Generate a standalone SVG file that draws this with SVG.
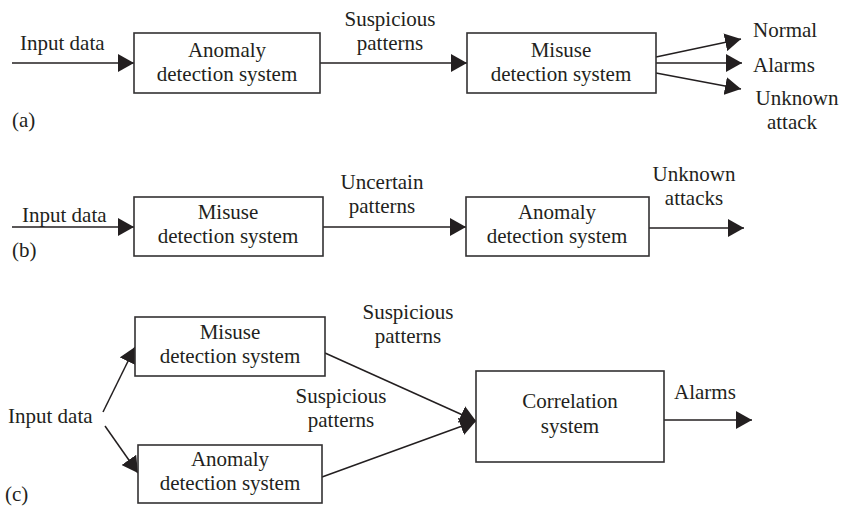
<svg xmlns="http://www.w3.org/2000/svg" width="845" height="507" viewBox="0 0 845 507">
  <defs>
    <style>
      .box { fill: #ffffff; stroke: #333132; stroke-width: 1.6; }
      .txt { font-family: "Liberation Serif", "Times New Roman", serif; font-size: 21px; fill: #231f20; }
      .mid { text-anchor: middle; }
      .edge { fill: none; stroke: #231f20; stroke-width: 1.5; marker-end: url(#arrow); }
    </style>
    <marker id="arrow" viewBox="0 -9 16 18" refX="16" refY="0" markerWidth="16" markerHeight="18" markerUnits="userSpaceOnUse" orient="auto">
      <path d="M0,-9 L16,0 L0,9 Z" fill="#231f20"/>
    </marker>
  </defs>
  <rect width="845" height="507" fill="#ffffff"/>

  <!-- connectors -->
  <g id="connectors">
    <!-- (a) -->
    <line class="edge" x1="12" y1="63" x2="134" y2="63"/>
    <line class="edge" x1="320" y1="63" x2="467" y2="63"/>
    <line class="edge" x1="656" y1="57" x2="741" y2="39"/>
    <line class="edge" x1="656" y1="63" x2="742" y2="63"/>
    <line class="edge" x1="656" y1="73" x2="741" y2="89"/>
    <!-- (b) -->
    <line class="edge" x1="12" y1="227" x2="134" y2="227"/>
    <line class="edge" x1="323" y1="227" x2="466" y2="227"/>
    <line class="edge" x1="649" y1="228" x2="744" y2="228"/>
    <!-- (c) -->
    <line class="edge" x1="103" y1="412" x2="135" y2="347"/>
    <line class="edge" x1="105" y1="426" x2="138" y2="473"/>
    <line class="edge" x1="325" y1="353" x2="476" y2="421"/>
    <line class="edge" x1="322" y1="477" x2="476" y2="421"/>
    <line class="edge" x1="664" y1="420" x2="752" y2="420"/>
  </g>

  <!-- edge labels -->
  <g id="labels">
    <text class="txt" x="20" y="50">Input data</text>
    <text class="txt mid" x="390" y="26">Suspicious</text>
    <text class="txt mid" x="390" y="50">patterns</text>
    <text class="txt" x="753" y="37">Normal</text>
    <text class="txt" x="753" y="72">Alarms</text>
    <text class="txt mid" x="797" y="105">Unknown</text>
    <text class="txt mid" x="792" y="129">attack</text>
    <text class="txt" x="12" y="127">(a)</text>

    <text class="txt" x="22" y="222">Input data</text>
    <text class="txt mid" x="382" y="189">Uncertain</text>
    <text class="txt mid" x="382" y="213">patterns</text>
    <text class="txt mid" x="694" y="181">Unknown</text>
    <text class="txt mid" x="694" y="205">attacks</text>
    <text class="txt" x="12" y="257">(b)</text>

    <text class="txt" x="8" y="423">Input data</text>
    <text class="txt mid" x="408" y="319">Suspicious</text>
    <text class="txt mid" x="408" y="343">patterns</text>
    <text class="txt mid" x="341" y="403">Suspicious</text>
    <text class="txt mid" x="341" y="427">patterns</text>
    <text class="txt" x="674" y="399">Alarms</text>
    <text class="txt" x="5" y="501">(c)</text>
  </g>

  <!-- (a) nodes -->
  <g id="a-anomaly">
    <rect class="box" x="134" y="33" width="186" height="60"/>
    <text class="txt mid" x="227" y="57">Anomaly</text>
    <text class="txt mid" x="227" y="81">detection system</text>
  </g>
  <g id="a-misuse">
    <rect class="box" x="467" y="33" width="189" height="60"/>
    <text class="txt mid" x="561" y="57">Misuse</text>
    <text class="txt mid" x="561" y="81">detection system</text>
  </g>

  <!-- (b) nodes -->
  <g id="b-misuse">
    <rect class="box" x="134" y="197" width="189" height="59"/>
    <text class="txt mid" x="228" y="219">Misuse</text>
    <text class="txt mid" x="228" y="243">detection system</text>
  </g>
  <g id="b-anomaly">
    <rect class="box" x="466" y="197" width="183" height="59"/>
    <text class="txt mid" x="557" y="219">Anomaly</text>
    <text class="txt mid" x="557" y="243">detection system</text>
  </g>

  <!-- (c) nodes -->
  <g id="c-misuse">
    <rect class="box" x="135" y="317" width="190" height="59"/>
    <text class="txt mid" x="230" y="339">Misuse</text>
    <text class="txt mid" x="230" y="363">detection system</text>
  </g>
  <g id="c-anomaly">
    <rect class="box" x="138" y="445" width="184" height="58"/>
    <text class="txt mid" x="230" y="466">Anomaly</text>
    <text class="txt mid" x="230" y="490">detection system</text>
  </g>
  <g id="c-correlation">
    <rect class="box" x="476" y="371" width="188" height="91"/>
    <text class="txt mid" x="570" y="408">Correlation</text>
    <text class="txt mid" x="570" y="433">system</text>
  </g>
</svg>
